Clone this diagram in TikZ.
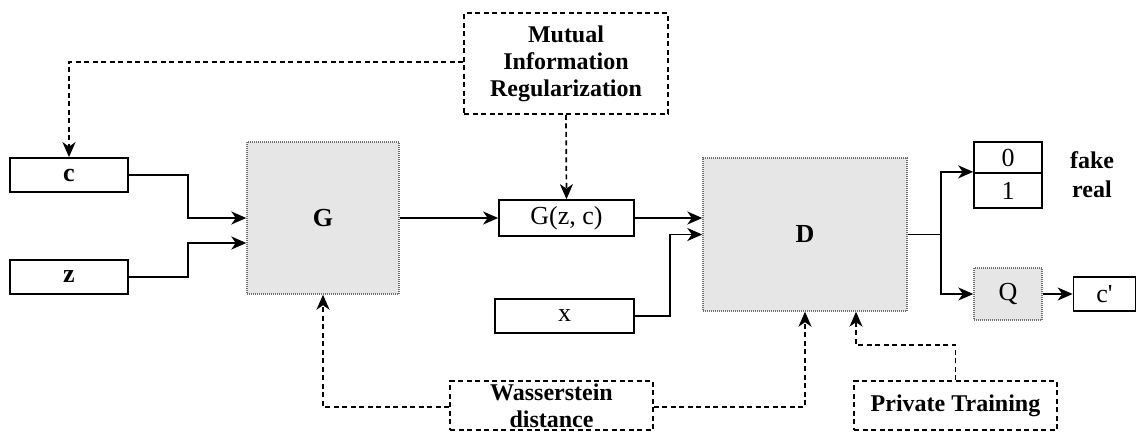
\documentclass[tikz,border=0pt]{standalone}
\usepackage{fontspec}
\setmainfont{Liberation Serif}
\usetikzlibrary{arrows.meta,calc}
\definecolor{blockgray}{HTML}{E6E6E6}
\definecolor{dotborder}{HTML}{6E6E6E}
\begin{document}
\begin{tikzpicture}[x=1pt,y=-1pt,
  every node/.style={font=\fontsize{26}{28}\selectfont, inner sep=0pt},
  box/.style={draw, line width=1.7pt},
  block/.style={fill=blockgray, draw=dotborder, line width=1.4pt, dash pattern=on 1pt off 1pt},
  note/.style={draw, line width=1.7pt, dash pattern=on 5pt off 3.5pt, align=center, font=\fontsize{24}{27}\selectfont\bfseries},
  flow/.style={line width=1.8pt, -{Stealth[length=15pt,width=13pt,inset=4.5pt]}},
  hint/.style={flow, line width=1.7pt, dash pattern=on 5pt off 3.5pt}]
\useasboundingbox (0,0) rectangle (1137,431);

% inputs of the generator
\node[box, minimum width=118pt, minimum height=34pt] (c) at (69,175) {\textbf{c}};
\node[box, minimum width=118pt, minimum height=34pt] (z) at (69,277) {\textbf{z}};

% generator and discriminator blocks
\node[block, minimum width=152pt, minimum height=152pt] (G) at (323,218) {\textbf{G}};
\node[block, minimum width=204pt, minimum height=153pt] (D) at (805,234.5) {\textbf{D}};

% generated sample and real sample
\node[box, minimum width=135pt, minimum height=36pt] (gzc) at (566.5,218) {G(z, c)};
\node[box, minimum width=139pt, minimum height=34pt] (x) at (564.5,316) {x};

% discriminator outputs
\node[box, minimum width=68pt, minimum height=31pt] (zero) at (1008,157.5) {0};
\node[box, minimum width=68pt, minimum height=35pt] (one) at (1008,190.5) {1};
\node[font=\fontsize{24}{27}\selectfont\bfseries] (fake) at (1092,160) {fake};
\node[font=\fontsize{24}{27}\selectfont\bfseries] (real) at (1092,189) {real};
\node[block, minimum width=68pt, minimum height=52pt] (Q) at (1008,294) {Q};
\node[box, minimum width=62pt, minimum height=34pt] (cp) at (1104.5,294) {c\textquotesingle};

% training objectives
\node[note, minimum width=204pt, minimum height=101pt] (mi) at (566,63.5) {Mutual\\Information\\Regularization};
\node[note, minimum width=203pt, minimum height=49pt] (w) at (551.5,405.5) {Wasserstein\\distance};
\node[note, minimum width=203pt, minimum height=49pt] (pt) at (955.5,405.5) {Private Training};

% data flow
\draw[flow] (c.east) -- ++(59,0) |- (G.west);
\draw[flow] (z.east) -- ++(59,0) |- ($(G.west)+(0,25)$);
\draw[flow] (G.east) -- (gzc.west);
\draw[flow] (gzc.east) -- (gzc.east -| D.west);
\draw[flow] (x.east) -- ++(35,0) |- (D.west);
\draw[line width=1.8pt] (D.east) -- ++(33,0) coordinate (split);
\draw[flow] (split) |- ($(zero.south west)+(0,-2)$);
\draw[flow] (split) |- (Q.west);
\draw[flow] (Q.east) -- (cp.west);

% regularisation and training signals
\draw[hint] ($(mi.west)+(0,-1.5)$) -| (c.north);
\draw[hint] (mi.south) -- (gzc.north);
\draw[hint] ($(w.west)+(0,1.5)$) -| (G.south);
\draw[hint] ($(w.east)+(0,1.5)$) -| (D.south);
\draw[hint] (pt.north) -- ++(0,-35) -| ($(D.south)+(51,0)$);
\end{tikzpicture}
\end{document}
